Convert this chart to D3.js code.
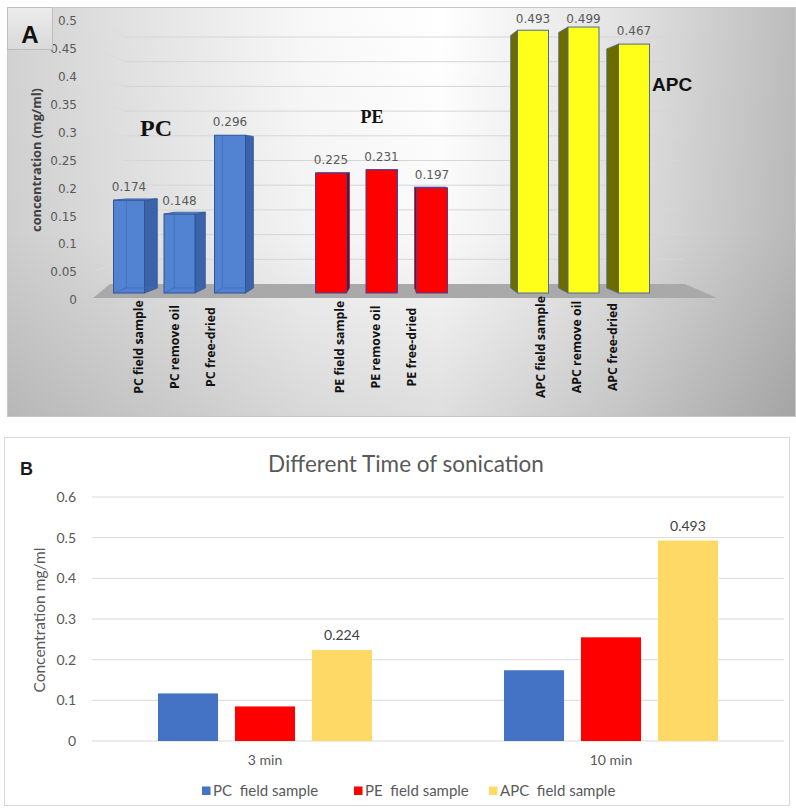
<!DOCTYPE html>
<html>
<head>
<meta charset="utf-8">
<script src="https://cdn.jsdelivr.net/npm/d3@7"></script>
<style>
  html, body { margin: 0; padding: 0; background: #fff; }
  svg { display: block; }
</style>
</head>
<body>
<svg id="chart" width="796" height="808"></svg>
<script>
// ---------- Panel A: pigment concentration per treatment ----------
const groupsA = ["PC", "PE", "APC"];
const treatmentsA = ["field sample", "remove oil", "free-dried"];
const categoriesA = [
  "PC field sample", "PC remove oil", "PC free-dried",
  "PE field sample", "PE remove oil", "PE free-dried",
  "APC field sample", "APC remove oil", "APC free-dried"
];
const valuesA = [0.174, 0.148, 0.296, 0.225, 0.231, 0.197, 0.493, 0.499, 0.467];
const ticksA = [0, 0.05, 0.1, 0.15, 0.2, 0.25, 0.3, 0.35, 0.4, 0.45, 0.5];

// ---------- Panel B: sonication time ----------
const timesB = ["3 min", "10 min"];
const seriesB = ["PC  field sample", "PE  field sample", "APC  field sample"];
const pcB = [0.117, 0.174];
const peB = [0.085, 0.255];
const apcB = [0.224, 0.493];
const ticksB = [0, 0.1, 0.2, 0.3, 0.4, 0.5, 0.6];

const svg = d3.select("#chart");
const defs = svg.append("defs");

// ================= Panel A =================
const bgA = defs.append("linearGradient").attr("id", "bgA")
  .attr("x1", "0").attr("y1", "0").attr("x2", "1").attr("y2", "0");
bgA.append("stop").attr("offset", "0").attr("stop-color", "#d2d2d2");
bgA.append("stop").attr("offset", "0.38").attr("stop-color", "#f8f8f8");
bgA.append("stop").attr("offset", "0.55").attr("stop-color", "#ffffff");
bgA.append("stop").attr("offset", "0.78").attr("stop-color", "#e2e2e2");
bgA.append("stop").attr("offset", "1").attr("stop-color", "#bcbcbc");
const shadeA = defs.append("linearGradient").attr("id", "shadeA")
  .attr("x1", "0").attr("y1", "0").attr("x2", "0").attr("y2", "1");
shadeA.append("stop").attr("offset", "0").attr("stop-color", "#000").attr("stop-opacity", 0.0);
shadeA.append("stop").attr("offset", "0.55").attr("stop-color", "#000").attr("stop-opacity", 0.02);
shadeA.append("stop").attr("offset", "1").attr("stop-color", "#000").attr("stop-opacity", 0.13);
const boxGrad = defs.append("linearGradient").attr("id", "boxA")
  .attr("x1", "0").attr("y1", "0").attr("x2", "0").attr("y2", "1");
boxGrad.append("stop").attr("offset", "0").attr("stop-color", "#ececec");
boxGrad.append("stop").attr("offset", "1").attr("stop-color", "#d9d9d9");

const gA = svg.append("g");
gA.append("rect").attr("x", 7).attr("y", 7).attr("width", 789).attr("height", 410)
  .attr("fill", "url(#bgA)");
gA.append("rect").attr("x", 7).attr("y", 7).attr("width", 789).attr("height", 410)
  .attr("fill", "url(#shadeA)");
gA.append("rect").attr("x", 7.5).attr("y", 7.5).attr("width", 788).attr("height", 409)
  .attr("fill", "none").attr("stroke", "#c8c8c8");

// perspective planes: front (bars), back wall (grid), label edge (tick text)
const yFront = d3.scaleLinear().domain([0, 0.5]).range([293, 293 - 0.5 * 533]);
const yBack = d3.scaleLinear().domain([0, 0.5]).range([288, 288 - 0.5 * 512]);
const yWall = d3.scaleLinear().domain([0, 0.5]).range([284, 284 - 0.5 * 494]);
const yLab = d3.scaleLinear().domain([0, 0.5]).range([300, 21]);
const wallLeft = 125, wallRight = 683, edgeLeft = 96;

// back-wall gridlines and side-wall segments
const grid = gA.append("g");
grid.selectAll("line.h").data(ticksA.slice(1)).join("line")
  .attr("x1", wallLeft).attr("x2", wallRight)
  .attr("y1", d => yWall(d)).attr("y2", d => yWall(d))
  .attr("stroke", "#d6d6d6").attr("stroke-width", 1);
grid.selectAll("line.s").data(ticksA.slice(1)).join("line")
  .attr("x1", edgeLeft).attr("x2", wallLeft)
  .attr("y1", d => yLab(d) - 1).attr("y2", d => yWall(d))
  .attr("stroke", "#dcdcdc").attr("stroke-width", 1);

// floor
gA.append("path")
  .attr("d", d3.line()([[93, yLab(0) - 2], [717, yLab(0) - 2], [wallRight + 2, yWall(0)], [wallLeft - 15, yWall(0)]]) + "Z")
  .attr("fill", "#a9a9a9");

// y tick labels
gA.append("g").selectAll("text").data(ticksA).join("text")
  .attr("x", 77).attr("y", d => yLab(d)).attr("dy", "0.35em")
  .attr("text-anchor", "end")
  .attr("font-family", "DejaVu Sans").attr("font-size", 12).attr("fill", "#595959")
  .text(d => d === 0 ? "0" : d3.format("")(+d.toFixed(2)));

// y axis title
gA.append("text")
  .attr("transform", "translate(37,160) rotate(-90)")
  .attr("text-anchor", "middle").attr("dy", "0.35em")
  .attr("font-family", "Open Sans").attr("font-weight", 700).attr("font-size", 12.8)
  .attr("fill", "#404040")
  .text("concentration (mg/ml)");

// bar positions
const xGroup = d3.scaleBand().domain(groupsA).range([78.5, 684.5]);
const xInner = d3.scalePoint().domain(treatmentsA).range([-50.5, 50.5]);
const barW = 31;
const vp = 392, depthK = 0.0486;
const colorsA = {
  PC: { front: "#5282d2", side: "#3c63a9", top: "#6a95dc", stroke: "#2f5597", inner: "#3d6ab5" },
  PE: { front: "#ff0000", side: "#a00000", top: "#ff4040", stroke: "#4a3f8f", inner: null },
  APC: { front: "#ffff1a", side: "#6b6b00", top: "#ffff80", stroke: "#4f6a8a", inner: null }
};
const barsA = categoriesA.map((c, i) => {
  const group = groupsA[Math.floor(i / 3)];
  const treat = treatmentsA[i % 3];
  const cx = xGroup(group) + xGroup.bandwidth() / 2 + xInner(treat);
  return { name: c, group, treat, value: valuesA[i], cx };
});

const barG = gA.append("g");
barsA.forEach(b => {
  const col = colorsA[b.group];
  const x0 = b.cx - barW / 2, x1 = b.cx + barW / 2;
  const yT = yFront(b.value), yB = yFront(0);
  const yBT = yBack(b.value), yBB = yBack(0);
  const dx = depthK * (vp - b.cx);
  const g = barG.append("g");
  const ex = dx >= 0 ? x1 : x0;
  // side face
  g.append("path")
    .attr("d", d3.line()([[ex, yT], [ex + dx, yBT], [ex + dx, yBB], [ex, yB]]) + "Z")
    .attr("fill", col.side).attr("stroke", col.stroke).attr("stroke-width", 0.8)
    .attr("stroke-linejoin", "round");
  // top face, only when seen from above
  if (yBT < yT) {
    g.append("path")
      .attr("d", d3.line()([[x0, yT], [x1, yT], [x1 + dx, yBT], [x0 + dx, yBT]]) + "Z")
      .attr("fill", col.top).attr("stroke", col.stroke).attr("stroke-width", 0.8);
  }
  // front face
  g.append("rect").attr("x", x0).attr("y", yT).attr("width", barW).attr("height", yB - yT)
    .attr("fill", col.front).attr("stroke", col.stroke).attr("stroke-width", 1);
  // hidden rear edges showing through the translucent blue bars
  if (col.inner) {
    g.append("path")
      .attr("d", d3.line()([[x0 + dx, yBT], [x0 + dx, yBB], [x1 + dx, yBB]]))
      .attr("fill", "none").attr("stroke", col.inner).attr("stroke-width", 1).attr("opacity", 0.7);
    g.append("line").attr("x1", x0).attr("y1", yB).attr("x2", x0 + dx).attr("y2", yBB)
      .attr("stroke", col.inner).attr("stroke-width", 1).attr("opacity", 0.7);
  }
  // value label
  g.append("text")
    .attr("x", b.cx).attr("y", Math.max(23, yT - 9))
    .attr("text-anchor", "middle")
    .attr("font-family", "DejaVu Sans").attr("font-size", 12).attr("fill", "#595959")
    .text(d3.format(".3f")(b.value));
});

// category labels below the floor
const xLabGroup = d3.scalePoint().domain(groupsA).range([175, 577]);
const xLabInner = d3.scalePoint().domain(treatmentsA).range([-36, 36]);
gA.append("g").selectAll("text").data(barsA).join("text")
  .attr("transform", d => `translate(${xLabGroup(d.group) + xLabInner(d.treat)},347) rotate(-90)`)
  .attr("text-anchor", "middle").attr("dy", "0.35em")
  .attr("font-family", "Open Sans").attr("font-weight", 700).attr("font-size", 12.3)
  .attr("fill", "#111")
  .text(d => d.name);

// group captions
gA.append("text").attr("x", 156).attr("y", 136).attr("text-anchor", "middle")
  .attr("font-family", "Liberation Serif").attr("font-weight", 700).attr("font-size", 24)
  .attr("fill", "#111").text("PC");
gA.append("text").attr("x", 372).attr("y", 123).attr("text-anchor", "middle")
  .attr("font-family", "Liberation Serif").attr("font-weight", 700).attr("font-size", 18)
  .attr("fill", "#111").text("PE");
gA.append("text").attr("x", 652).attr("y", 91)
  .attr("font-family", "Liberation Sans").attr("font-weight", 700).attr("font-size", 19)
  .attr("fill", "#111").text("APC");

// panel letter
gA.append("rect").attr("x", 7.5).attr("y", 7.5).attr("width", 45).attr("height", 42)
  .attr("fill", "url(#boxA)").attr("stroke", "#bdbdbd");
gA.append("text").attr("x", 30).attr("y", 43).attr("text-anchor", "middle")
  .attr("font-family", "Liberation Sans").attr("font-weight", 700).attr("font-size", 24)
  .attr("fill", "#111").text("A");

// ================= Panel B =================
const gB = svg.append("g");
gB.append("rect").attr("x", 4.5).attr("y", 437.5).attr("width", 785).attr("height", 368)
  .attr("fill", "#fff").attr("stroke", "#d9d9d9");

gB.append("text").attr("x", 20).attr("y", 475)
  .attr("font-family", "Liberation Sans").attr("font-weight", 700).attr("font-size", 18)
  .attr("fill", "#1a1a1a").text("B");

gB.append("text").attr("x", 406).attr("y", 472).attr("text-anchor", "middle")
  .attr("font-family", "Lato").attr("font-size", 22.5).attr("fill", "#595959")
  .text("Different Time of sonication");

const yB = d3.scaleLinear().domain([0, 0.6]).range([741, 497]);
const xB0 = d3.scaleBand().domain(timesB).range([92, 784]);
const xB1 = d3.scaleBand().domain(seriesB).range([-107, 107]).paddingInner(0.22);
const colorsB = ["#4472c4", "#ff0000", "#ffd966"];

gB.append("g").selectAll("line").data(ticksB).join("line")
  .attr("x1", 92).attr("x2", 784)
  .attr("y1", d => yB(d)).attr("y2", d => yB(d))
  .attr("stroke", "#d9d9d9").attr("stroke-width", 1);

gB.append("g").selectAll("text").data(ticksB).join("text")
  .attr("x", 76).attr("y", d => yB(d)).attr("dy", "0.35em")
  .attr("text-anchor", "end")
  .attr("font-family", "Lato").attr("font-size", 14).attr("fill", "#595959")
  .text(d => d === 0 ? "0" : d3.format("")(+d.toFixed(1)));

gB.append("text")
  .attr("transform", "translate(40,620) rotate(-90)")
  .attr("text-anchor", "middle").attr("dy", "0.35em")
  .attr("font-family", "Lato").attr("font-size", 15.5).attr("fill", "#595959")
  .text("Concentration mg/ml");

const valuesB = [pcB, peB, apcB];
const barsB = [];
timesB.forEach((t, ti) => seriesB.forEach((s, si) => {
  barsB.push({ time: t, series: s, si, value: valuesB[si][ti] });
}));
gB.append("g").selectAll("rect").data(barsB).join("rect")
  .attr("x", d => xB0(d.time) + xB0.bandwidth() / 2 + xB1(d.series))
  .attr("y", d => yB(d.value))
  .attr("width", xB1.bandwidth())
  .attr("height", d => yB(0) - yB(d.value))
  .attr("fill", d => colorsB[d.si]);

// data labels on the APC series
gB.append("g").selectAll("text").data(barsB.filter(d => d.si === 2)).join("text")
  .attr("x", d => xB0(d.time) + xB0.bandwidth() / 2 + xB1(d.series) + xB1.bandwidth() / 2)
  .attr("y", d => yB(d.value) - 10)
  .attr("text-anchor", "middle")
  .attr("font-family", "Lato").attr("font-size", 14).attr("fill", "#404040")
  .text(d => d3.format(".3f")(d.value));

gB.append("g").selectAll("text").data(timesB).join("text")
  .attr("x", d => xB0(d) + xB0.bandwidth() / 2).attr("y", 765)
  .attr("text-anchor", "middle")
  .attr("font-family", "Lato").attr("font-size", 14).attr("fill", "#595959")
  .text(d => d);

// legend
const legendX = [202, 354, 489];
const leg = gB.append("g").selectAll("g").data(seriesB).join("g")
  .attr("transform", (d, i) => `translate(${legendX[i]},791)`);
leg.append("rect").attr("x", 0).attr("y", -4.5).attr("width", 8.5).attr("height", 8.5)
  .attr("fill", (d, i) => colorsB[i]);
leg.append("text").attr("x", 11).attr("dy", "0.35em")
  .attr("font-family", "Lato").attr("font-size", 15).attr("fill", "#595959")
  .attr("xml:space", "preserve").style("white-space", "pre")
  .text(d => d);
</script>
</body>
</html>
